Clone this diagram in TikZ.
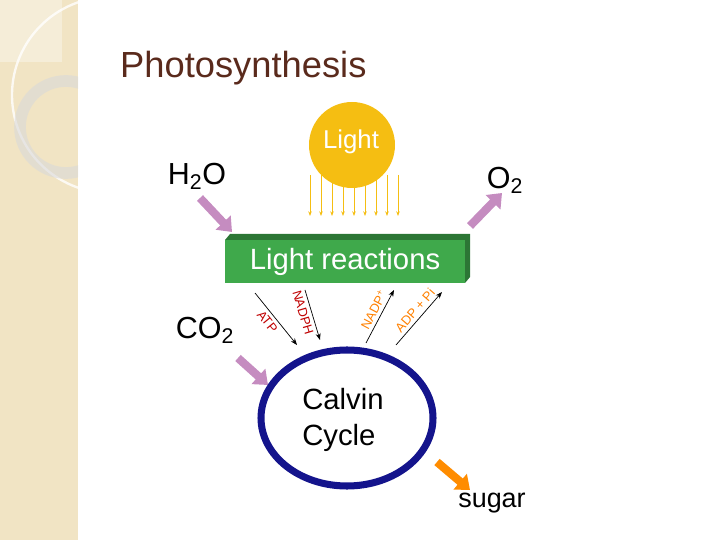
\documentclass[tikz,border=0pt]{standalone}
\usepackage{fontspec}
\setmainfont{Liberation Sans}
\usetikzlibrary{arrows.meta,positioning}
\definecolor{beige}{HTML}{F1E4C4}
\definecolor{gold}{HTML}{F5BE12}
\definecolor{plum}{HTML}{C58CC0}
\definecolor{leaf}{HTML}{3FA94B}
\definecolor{navy}{HTML}{14148C}
\definecolor{titlebrown}{HTML}{5A2A1C}
\begin{document}
\begin{tikzpicture}[x=0.03cm,y=-0.03cm,>=Stealth,
                    fat/.style={plum,line width=7pt,-{Triangle[length=11pt,width=17pt]}},
                    thin/.style={black,semithick,->},
                    label/.style={font=\fontsize{11}{11}\selectfont,inner sep=3pt}]
  \useasboundingbox (0,0) rectangle (720,540);
  % background strip
  \fill[beige] (0,0) rectangle (78,540);
  \fill[white,opacity=0.35] (0,0) rectangle (62,62);
  \begin{scope}
    \clip (0,0) rectangle (78,540);
    \draw[white,line width=2pt,opacity=0.8] (110,95) circle (98);
    \draw[black!15,line width=10pt,opacity=0.6] (66,127) circle (46);
  \end{scope}
  \node[anchor=west,text=titlebrown,font=\fontsize{31}{31}\selectfont] (title) at (116,68) {Photosynthesis};

  % sun
  \foreach \x in {310,321,...,398}
    \draw[gold,thick,-{Stealth[length=4pt]}] (\x,175) -- (\x,216);
  \node[circle,fill=gold,minimum size=86*0.03cm] (sun) at (352,145) {};
  \node[text=white,font=\fontsize{22}{22}\selectfont] (light) at (351,142) {Light};

  % light reactions box
  \fill[leaf!70!black] (225,240) -- (230,234) -- (470,234) -- (470,277) -- (465,283) -- (465,240) -- cycle;
  \node[fill=leaf,minimum width=240*0.03cm,minimum height=43*0.03cm,inner sep=0,text=white,
        font=\fontsize{25}{25}\selectfont] (lr) at (345,262) {Light reactions};

  % inputs and outputs
  \node[font=\fontsize{26}{26}\selectfont] (water) at (197,176) {H\textsubscript{2}O};
  \node[font=\fontsize{26}{26}\selectfont] (oxygen) at (505,180) {O\textsubscript{2}};
  \node[font=\fontsize{26}{26}\selectfont] (co2) at (205,330) {CO\textsubscript{2}};
  \node[font=\fontsize{23}{23}\selectfont] (sugar) at (492,503) {sugar};
  \draw[fat] (200,198) -- (232,232);
  \draw[fat] (470,226) -- (502,193);
  \draw[fat] (238,358) -- (268,385);
  \draw[fat,orange!90!yellow] (437,462) -- (470,490);

  % Calvin cycle
  \draw[navy,line width=6pt] (347,418) ellipse (86 and 68);
  \node[align=left,font=\fontsize{25}{30}\selectfont] (calvin) at (343,420) {Calvin\\Cycle};

  % carriers
  \draw[thin] (255,293) -- (297,345) node[pos=0.45,sloped,below,label,red!75!black] {ATP};
  \draw[thin] (305,290) -- (320,340) node[pos=0.4,sloped,below,label,red!75!black] {NADPH};
  \draw[thin] (366,343) -- (394,290) node[pos=0.55,sloped,above,label,orange] {NADP\textsuperscript{+}};
  \draw[thin] (396,345) -- (442,292) node[pos=0.55,sloped,above,label,orange] {ADP + Pi};
\end{tikzpicture}
\end{document}
